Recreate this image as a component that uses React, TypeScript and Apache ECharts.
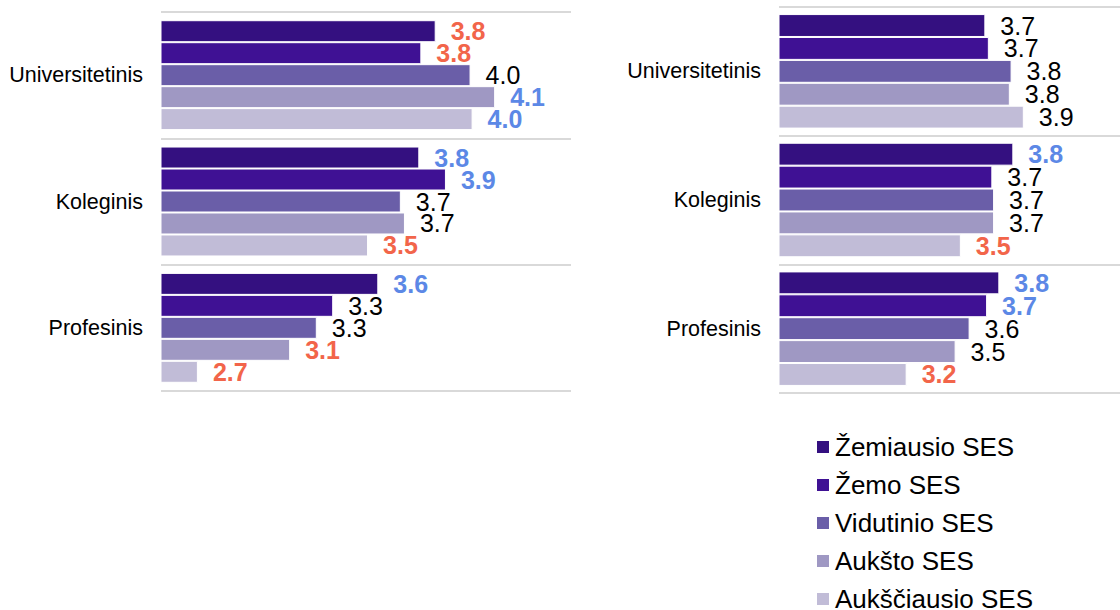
import React, { useEffect, useRef } from "react";
import * as echarts from "echarts";

const categories = ["Universitetinis", "Koleginis", "Profesinis"];
const sesLevels = ["Žemiausio SES", "Žemo SES", "Vidutinio SES", "Aukšto SES", "Aukščiausio SES"];
const sesColors = ["#341080", "#3F1194", "#6A5EA8", "#9F98C3", "#C1BCD7"];

// Left panel values (per SES level, across categories)
const leftZemiausio = [3.84, 3.76, 3.56];
const leftZemo = [3.77, 3.89, 3.34];
const leftVidutinio = [4.01, 3.67, 3.26];
const leftAuksto = [4.13, 3.69, 3.13];
const leftAukscia = [4.02, 3.51, 2.68];

// Right panel values
const rightZemiausio = [3.68, 3.84, 3.76];
const rightZemo = [3.70, 3.72, 3.69];
const rightVidutinio = [3.83, 3.73, 3.59];
const rightAuksto = [3.82, 3.73, 3.51];
const rightAukscia = [3.90, 3.54, 3.23];

// Label marks: r = significantly lower, b = significantly higher, n = none
const leftSigZemiausio = ["r", "b", "b"];
const leftSigZemo = ["r", "b", "n"];
const leftSigVidutinio = ["n", "n", "n"];
const leftSigAuksto = ["b", "n", "r"];
const leftSigAukscia = ["b", "r", "r"];

const rightSigZemiausio = ["n", "b", "b"];
const rightSigZemo = ["n", "n", "b"];
const rightSigVidutinio = ["n", "n", "n"];
const rightSigAuksto = ["n", "n", "n"];
const rightSigAukscia = ["n", "r", "r"];

const leftValues = [leftZemiausio, leftZemo, leftVidutinio, leftAuksto, leftAukscia];
const rightValues = [rightZemiausio, rightZemo, rightVidutinio, rightAuksto, rightAukscia];
const leftSig = [leftSigZemiausio, leftSigZemo, leftSigVidutinio, leftSigAuksto, leftSigAukscia];
const rightSig = [rightSigZemiausio, rightSigZemo, rightSigVidutinio, rightSigAuksto, rightSigAukscia];

const FONT = "'Liberation Sans', Arial, sans-serif";

function labelStyle(s: string) {
  if (s === "r") return { color: "#F2654A", fontWeight: "bold" as const };
  if (s === "b") return { color: "#5C88E6", fontWeight: "bold" as const };
  return { color: "#000000", fontWeight: "normal" as const };
}

function buildSeries(values: number[][], sig: string[][], axisIndex: number, gap: string) {
  return values.map((vals, i) => ({
    name: sesLevels[i],
    type: "bar",
    xAxisIndex: axisIndex,
    yAxisIndex: axisIndex,
    barGap: "0%",
    barCategoryGap: gap,
    itemStyle: { color: sesColors[i], borderColor: "#ffffff", borderWidth: 1 },
    label: {
      show: true,
      position: "right",
      distance: 15,
      fontSize: 25,
      lineHeight: 22,
      fontFamily: FONT,
      formatter: (p: any) => Number(p.value).toFixed(1),
    },
    data: vals.map((v, j) => ({ value: v, label: labelStyle(sig[i][j]) })),
  }));
}

export default function App() {
  const ref = useRef<HTMLDivElement>(null);
  useEffect(() => {
    if (!ref.current) return;
    const chart = echarts.init(ref.current, null, { renderer: "svg" });
    const catAxis = (idx: number) => ({
      type: "category",
      gridIndex: idx,
      data: categories,
      inverse: true,
      axisLine: { show: false },
      axisTick: { show: false },
      axisLabel: { fontSize: 21.5, color: "#000", fontFamily: FONT, margin: 18 },
      splitLine: { show: true, lineStyle: { color: "#D9D9D9", width: 2 } },
    });
    const valAxis = (idx: number, min: number, max: number) => ({
      type: "value",
      gridIndex: idx,
      min,
      max,
      axisLine: { show: false },
      axisTick: { show: false },
      axisLabel: { show: false },
      splitLine: { show: false },
    });
    const legendTops = [434, 472, 510, 548, 586];
    chart.setOption({
      animation: false,
      backgroundColor: "#ffffff",
      textStyle: { fontFamily: FONT },
      grid: [
        { left: 161, width: 410, top: 12, height: 379 },
        { left: 779, right: 0, top: 7, height: 386 },
      ],
      xAxis: [valAxis(0, 2.5, 4.5), valAxis(1, 2.5, 4.45)],
      yAxis: [catAxis(0), catAxis(1)],
      legend: sesLevels.map((name, i) => ({
        data: [name],
        orient: "vertical",
        left: 815,
        top: legendTops[i],
        padding: 0,
        icon: "rect",
        itemWidth: 14,
        itemHeight: 14,
        textStyle: { fontSize: 26, color: "#000", fontFamily: FONT },
      })),
      series: [
        ...buildSeries(leftValues, leftSig, 0, "13%"),
        ...buildSeries(rightValues, rightSig, 1, "11%"),
      ],
    });
    return () => chart.dispose();
  }, []);
  return (
    <div
      ref={ref}
      style={{ position: "fixed", left: 0, top: 0, width: 1120, height: 610 }}
    />
  );
}
